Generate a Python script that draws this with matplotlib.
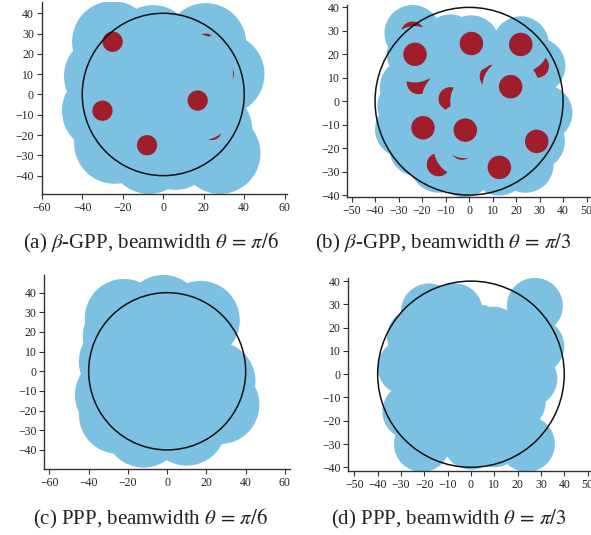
import matplotlib
matplotlib.use("Agg")
import matplotlib.pyplot as plt
from matplotlib.patches import Circle

plt.rcParams['font.family'] = ['Liberation Serif', 'DejaVu Serif']
plt.rcParams['mathtext.fontset'] = 'stix'
plt.rcParams['axes.unicode_minus'] = True

BLUE = '#7cc1e2'
RED = '#a01d2b'

# ---------------- data ----------------
# node lists (drawn in order): x, y, has_red
a_x = [-5, -29, -24, -7, 6, -8, 28, 21, 30, 14.5, 24, -25, -30, -8, 17]
a_y = [24, 9, -24, -29, -27, 5, -29, 25, 10, 10, -17.5, 26, -8, -25, -3]
a_red = [0, 0, 0, 0, 0, 0, 1, 1, 1, 0, 1, 1, 1, 1, 1]

b_x = [-8, 22, -28, -27, -26, -22, -2, 24, 0, -10, 10, -10, 8, -12, 15, -14, 12, 32,
       -24, -21.5, -13, -3, -8, 4, 9.5, 29,
       -23, 1, 22, 17.7, -19.6, -1.6, 28.8, 12.9]
b_y = [25, -2, -12, -2, 6, -20, -29, -27, 10, 12, 0, -5, -15, -18, -5, 18, -22, -5,
       29, 8, -27, -20, 1, 0, 10.5, 15,
       20, 24.6, 24.2, 6.2, -11.3, -12.3, -17.1, -28.2]
b_red = [0] * 18 + [1, 1, 1, 1, 1, 0, 1, 1] + [1] * 8

c_x = [-2, -22, 17, 25, 27, 10, -12, -25, -27, -25, -23, 0, 5, -8, 10]
c_y = [29, 27, 26, -5, -17, -28, -29, -22, -12, 5, 18, 0, 10, -8, -10]
c_red = [0] * 15

d_x = [27.4, -18, -7, 9.6, 28, 25, 20, 24, 10, -21, 0, -26, -28, -24,
       -12, 3, 12, 0, -14, -5, 8, -12, 3, 12, -16, 14, -10]
d_y = [29.4, 27, 27, 17, 12, -2, -12, -30, -28, -30, -29, -16, 3, 16,
       12, 18, 5, 5, 0, -10, -10, -18, -20, -18, -8, -3, 24]
d_red = [0] * 27

panels = [
    dict(x=a_x, y=a_y, red=a_red, R=20,
         pos=[0.0706, 0.6368, 0.4146, 0.3600], xlim=(-60, 61), ylim=(-49.2, 45.7),
         xticks=list(range(-60, 61, 20)), yticks=list(range(-40, 41, 10))),
    dict(x=b_x, y=b_y, red=b_red, R=12,
         pos=[0.5877, 0.6310, 0.4135, 0.3596], xlim=(-51.8, 52.2), ylim=(-41, 41),
         xticks=list(range(-50, 51, 10)), yticks=list(range(-40, 41, 10))),
    dict(x=c_x, y=c_y, red=c_red, R=20,
         pos=[0.0750, 0.1234, 0.4154, 0.3626], xlim=(-62.6, 62.5), ylim=(-49.7, 49),
         xticks=list(range(-60, 61, 20)), yticks=list(range(-40, 41, 10))),
    dict(x=d_x, y=d_y, red=d_red, R=12,
         pos=[0.5893, 0.1196, 0.4152, 0.3602], xlim=(-52.6, 52.6), ylim=(-41.6, 41.2),
         xticks=list(range(-50, 51, 10)), yticks=list(range(-40, 41, 10))),
]

captions = [r"(a) $\beta$-GPP, beamwidth $\theta\,{=}\,\pi/6$",
            r"(b) $\beta$-GPP, beamwidth $\theta\,{=}\,\pi/3$",
            r"(c) PPP, beamwidth $\theta\,{=}\,\pi/6$",
            r"(d) PPP, beamwidth $\theta\,{=}\,\pi/3$"]
cap_xy = [(151, 243), (443, 243), (151, 519), (449, 519)]

RED_R = 5
AREA_R = 40

fig = plt.figure(figsize=(5.91, 5.35), dpi=100)
for p in panels:
    ax = fig.add_axes(p['pos'])
    z = 1.0
    for x, y, r in zip(p['x'], p['y'], p['red']):
        ax.add_patch(Circle((x, y), p['R'], facecolor=BLUE, edgecolor='none', zorder=z))
        z += 0.01
        if r:
            ax.add_patch(Circle((x, y), RED_R, facecolor=RED, edgecolor='none', zorder=z))
            z += 0.01
    ax.add_patch(Circle((0, 0), AREA_R, facecolor='none', edgecolor='#111111', lw=1.1, zorder=5))
    ax.set_xlim(*p['xlim'])
    ax.set_ylim(*p['ylim'])
    ax.set_xticks(p['xticks'])
    ax.set_yticks(p['yticks'])
    for s in ['top', 'right']:
        ax.spines[s].set_visible(False)
    for s in ['left', 'bottom']:
        ax.spines[s].set_color('#333333')
        ax.spines[s].set_linewidth(1.0)
        ax.spines[s].set_zorder(10)
    ax.tick_params(direction='out', length=3.6, width=0.8, color='#333333',
                   labelsize=8.5, pad=2, labelcolor='#222222')
    ax.patch.set_alpha(0)

for (cx, cy), t in zip(cap_xy, captions):
    fig.text(cx / 591, 1 - cy / 535, t, ha='center', va='center', fontsize=15, color='#222222')

fig.savefig('out.png', dpi=100)
